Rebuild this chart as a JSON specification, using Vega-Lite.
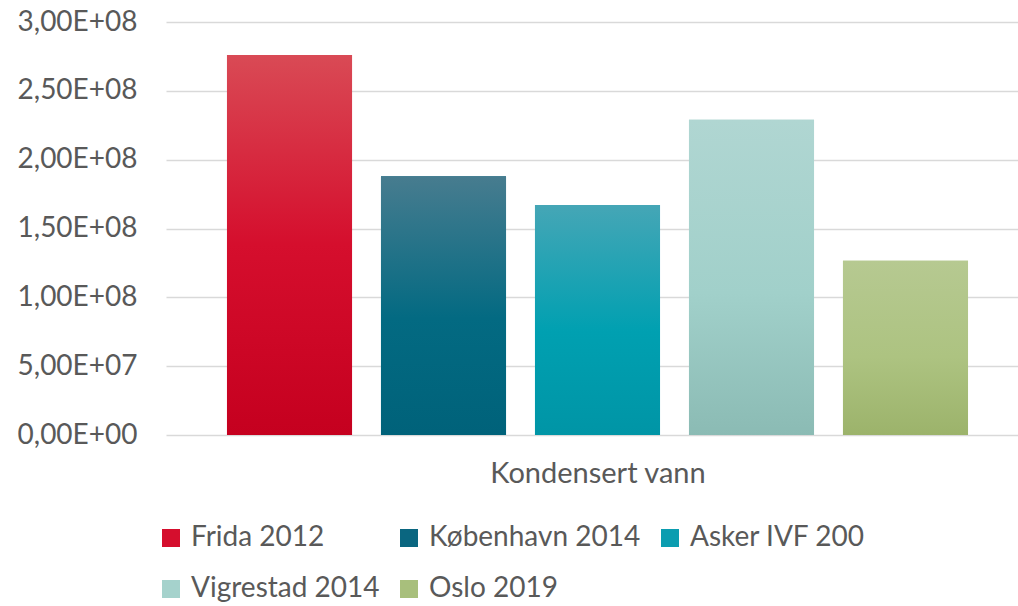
{
  "$schema": "https://vega.github.io/schema/vega-lite/v6.json",
  "width": 863,
  "height": 413,
  "autosize": {"type": "none"},
  "padding": {"left": 166, "top": 22, "right": 0, "bottom": 171},
  "background": "white",
  "config": {
    "view": {"stroke": null},
    "font": "Lato",
    "axis": {"labelFont": "Lato", "titleFont": "Lato"},
    "legend": {"labelFont": "Lato"}
  },
  "data": {
    "values": [
      {"series": "Frida 2012", "value": 276000000},
      {"series": "København 2014", "value": 188000000},
      {"series": "Asker IVF 200", "value": 167000000},
      {"series": "Vigrestad 2014", "value": 229000000},
      {"series": "Oslo 2019", "value": 126500000}
    ]
  },
  "encoding": {
    "x": {
      "field": "series",
      "type": "nominal",
      "sort": ["Frida 2012", "København 2014", "Asker IVF 200", "Vigrestad 2014", "Oslo 2019"],
      "scale": {"paddingInner": 0.188, "paddingOuter": 0.396},
      "axis": {
        "title": "Kondensert vann",
        "labels": false,
        "ticks": false,
        "domain": false,
        "titleFontSize": 29,
        "titleFontWeight": "normal",
        "titleColor": "#595959",
        "titlePadding": 24
      }
    },
    "y": {
      "field": "value",
      "type": "quantitative",
      "scale": {"domain": [0, 300000000], "nice": false},
      "axis": {
        "title": null,
        "values": [0, 50000000, 100000000, 150000000, 200000000, 250000000, 300000000],
        "labelExpr": "replace(replace(format(datum.value, '.2e'), '.', ','), 'e+', 'E+0')",
        "labelFontSize": 28,
        "labelColor": "#595959",
        "labelPadding": 29,
        "ticks": false,
        "domain": false,
        "gridColor": "#d9d9d9",
        "gridWidth": 1.5
      }
    }
  },
  "layer": [
    {
      "mark": {"type": "bar"},
      "encoding": {
        "color": {
          "field": "series",
          "type": "nominal",
          "scale": {
            "domain": ["Frida 2012", "København 2014", "Asker IVF 200", "Vigrestad 2014", "Oslo 2019"],
            "range": ["#d50e2d", "#0a6680", "#0b9db0", "#a5d2cc", "#a8bf7c"]
          },
          "legend": {
            "title": null,
            "orient": "none",
            "direction": "horizontal",
            "legendX": -9,
            "legendY": 502,
            "columns": 3,
            "symbolType": "square",
            "symbolSize": 324,
            "symbolStrokeWidth": 0,
            "symbolOpacity": 1,
            "labelFontSize": 28,
            "labelColor": "#595959",
            "labelOffset": 6,
            "rowPadding": 23,
            "columnPadding": 15,
            "labelLimit": 400
          }
        }
      }
    },
    {
      "transform": [{"filter": "datum.series === 'Frida 2012'"}],
      "mark": {"type": "bar", "color": {"gradient": "linear", "x1": 0, "y1": 0, "x2": 0, "y2": 1, "stops": [{"offset": 0, "color": "#d94a55"}, {"offset": 0.5, "color": "#d50e2d"}, {"offset": 1, "color": "#c5001f"}]}}
    },
    {
      "transform": [{"filter": "datum.series === 'København 2014'"}],
      "mark": {"type": "bar", "color": {"gradient": "linear", "x1": 0, "y1": 0, "x2": 0, "y2": 1, "stops": [{"offset": 0, "color": "#477c8f"}, {"offset": 0.55, "color": "#036a82"}, {"offset": 1, "color": "#00627a"}]}}
    },
    {
      "transform": [{"filter": "datum.series === 'Asker IVF 200'"}],
      "mark": {"type": "bar", "color": {"gradient": "linear", "x1": 0, "y1": 0, "x2": 0, "y2": 1, "stops": [{"offset": 0, "color": "#45a6b6"}, {"offset": 0.55, "color": "#00a0b1"}, {"offset": 1, "color": "#0095a6"}]}}
    },
    {
      "transform": [{"filter": "datum.series === 'Vigrestad 2014'"}],
      "mark": {"type": "bar", "color": {"gradient": "linear", "x1": 0, "y1": 0, "x2": 0, "y2": 1, "stops": [{"offset": 0, "color": "#b0d6d2"}, {"offset": 0.55, "color": "#a1d0ca"}, {"offset": 1, "color": "#8bbbb4"}]}}
    },
    {
      "transform": [{"filter": "datum.series === 'Oslo 2019'"}],
      "mark": {"type": "bar", "color": {"gradient": "linear", "x1": 0, "y1": 0, "x2": 0, "y2": 1, "stops": [{"offset": 0, "color": "#b6c991"}, {"offset": 0.55, "color": "#adc381"}, {"offset": 1, "color": "#9cb36b"}]}}
    }
  ]
}
